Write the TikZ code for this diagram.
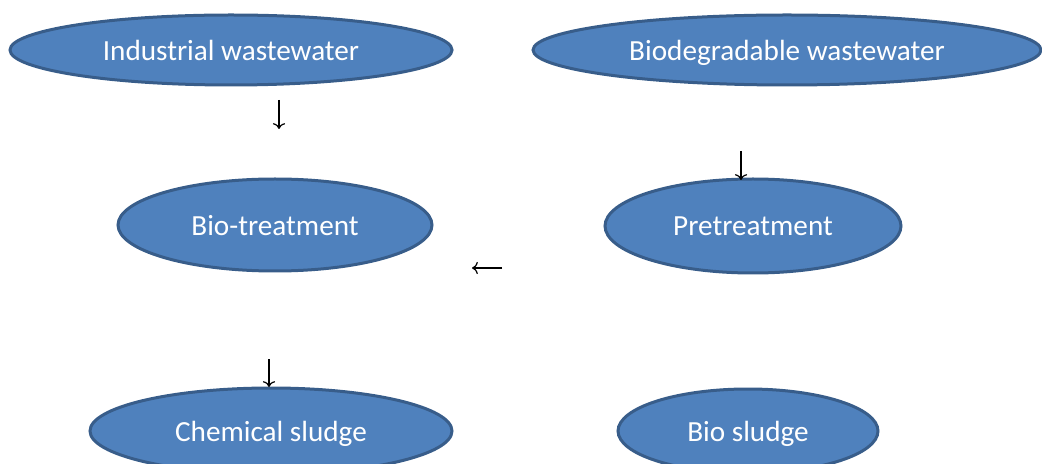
\documentclass[tikz,border=0pt]{standalone}
\usepackage{fontspec}
\setmainfont{Carlito}
\usetikzlibrary{positioning,shapes.geometric,arrows.meta}
\definecolor{blob}{HTML}{4F81BD}
\definecolor{blobline}{HTML}{385D8A}
\definecolor{ink}{HTML}{000000}
\tikzset{
  stage/.style = {ellipse, draw=blobline, fill=blob, line width=1.5pt,
                  inner sep=0pt, text=white, text depth=0pt,
                  font=\fontsize{14.6}{16}\selectfont},
  hint/.style  = {->, draw=ink, line width=0.6pt},
}
\begin{document}
\begin{tikzpicture}[x=0.5pt, y=-0.5pt]
  \useasboundingbox (0,0) rectangle (1042,464);
  \node[stage, minimum width=221pt, minimum height=35pt] (indus) at (231,50) {Industrial wastewater};
  \node[stage, minimum width=254pt, minimum height=35pt] (biodeg) at (787,50) {Biodegradable wastewater};
  \node[stage, minimum width=157pt, minimum height=46pt] (biotr) at (275,225) {Bio-treatment};
  \node[stage, minimum width=148pt, minimum height=47pt] (pretr) at (753,226) {Pretreatment};
  \node[stage, minimum width=181pt, minimum height=43pt] (chem) at (271,431) {Chemical sludge};
  \node[stage, minimum width=130pt, minimum height=42pt] (biosl) at (748,431) {Bio sludge};
  % loose arrow marks
  \coordinate (d1a) at (279,100); \coordinate (d1b) at (279,129);
  \coordinate (d2a) at (741,151); \coordinate (d2b) at (741,180);
  \coordinate (l1a) at (502,268); \coordinate (l1b) at (472,268);
  \coordinate (d3a) at (269,359); \coordinate (d3b) at (269,387);
  \draw[hint] (d1a) -- (d1b);
  \draw[hint] (d2a) -- (d2b);
  \draw[hint] (l1a) -- (l1b);
  \draw[hint] (d3a) -- (d3b);
\end{tikzpicture}
\end{document}
